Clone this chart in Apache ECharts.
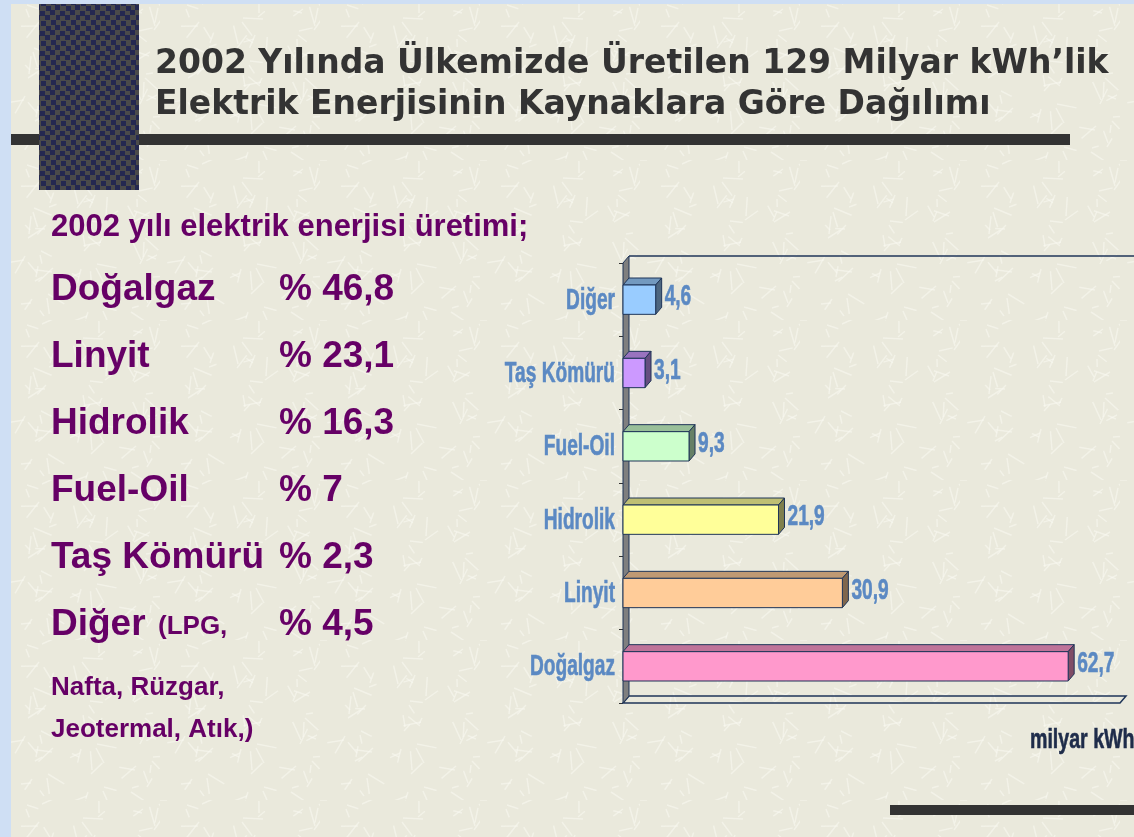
<!DOCTYPE html>
<html>
<head>
    <meta charset="utf-8">
    <title>2002 Elektrik Enerjisi</title>
    <script src="https://cdn.jsdelivr.net/npm/echarts@6/dist/echarts.min.js"></script>
    <style>
        html, body { margin: 0; padding: 0; background: #EAE9DC; }
        #main { width: 1134px; height: 837px; }
    </style>
</head>
<body>
<div id="main"></div>
<script>
    // grafik verileri (milyar kWh)
    var categories = ['Doğalgaz', 'Linyit', 'Hidrolik', 'Fuel-Oil', 'Taş Kömürü', 'Diğer'];
    var production = [62.7, 30.9, 21.9, 9.3, 3.1, 4.6];
    // soldaki yüzde listesi
    var shareNames = ['Doğalgaz', 'Linyit', 'Hidrolik', 'Fuel-Oil', 'Taş Kömürü', 'Diğer'];
    var shareValues = ['46,8', '23,1', '16,3', '7', '2,3', '4,5'];
    var xMax = 70;

    var faceColors = ['#FF99CC', '#FFCC99', '#FFFF99', '#CCFFCC', '#CC99FF', '#99CCFF'];
    var labelBlue = '#5B89C3';
    var purple = '#660066';
    var arial = '"Liberation Sans", Arial, sans-serif';
    var NARROW = 0.66; // grafik yazıları yatayda sıkışık

    var G = { left: 623, top: 263, right: 14, bottom: 134 };
    var DX = 6, DY = 7;

    function shade(hex, k) {
        var n = parseInt(hex.slice(1), 16);
        var r = Math.round(((n >> 16) & 255) * k), g = Math.round(((n >> 8) & 255) * k), b = Math.round((n & 255) * k);
        return 'rgb(' + r + ',' + g + ',' + b + ')';
    }

    // koyu kare desen (sol üstteki blok)
    function makePattern() {
        var c = document.createElement('canvas');
        c.width = 20; c.height = 20;
        var ctx = c.getContext('2d');
        ctx.fillStyle = '#4A4A4A';
        ctx.fillRect(0, 0, 20, 20);
        ctx.fillStyle = '#242850';
        [[1, 1], [11, 0], [6, 6], [15, 5], [0, 11], [10, 10], [5, 15], [16, 15]].forEach(function (p) {
            ctx.fillRect(p[0], p[1], 5, 5);
        });
        return c;
    }

    // zemin dokusu: açık renkli kısa çizgiler
    function makeTexture() {
        var c = document.createElement('canvas');
        c.width = 160; c.height = 160;
        var ctx = c.getContext('2d');
        ctx.fillStyle = '#EAE9DC';
        ctx.fillRect(0, 0, 160, 160);
        ctx.strokeStyle = 'rgba(250,250,242,0.55)';
        ctx.lineWidth = 1.5;
        for (var i = 0; i < 90; i++) {
            var x = (i * 53) % 160, y = (i * 97 + (i % 7) * 11) % 160;
            var a = i * 2.39, len = 7 + (i * 13) % 14;
            ctx.beginPath();
            ctx.moveTo(x, y);
            ctx.lineTo(x + Math.cos(a) * len, y + Math.sin(a) * len);
            ctx.stroke();
        }
        return c;
    }

    var chart = echarts.init(document.getElementById('main'));

    var graphics = [
        { type: 'rect', z: -10, shape: { x: 11, y: 4, width: 1123, height: 833 }, style: { fill: { image: makeTexture(), repeat: 'repeat' } }, silent: true },
        { type: 'rect', shape: { x: 0, y: 0, width: 11, height: 837 }, style: { fill: '#CFDFF4' }, silent: true },
        { type: 'rect', shape: { x: 0, y: 0, width: 1134, height: 4 }, style: { fill: '#CFDFF4' }, silent: true },
        { type: 'rect', shape: { x: 11, y: 134, width: 1059, height: 11 }, style: { fill: '#333333' }, z: 1 },
        { type: 'rect', shape: { x: 39, y: 4, width: 100, height: 186 }, style: { fill: { image: makePattern(), repeat: 'repeat' } }, z: 2 },
        { type: 'rect', shape: { x: 890, y: 805, width: 244, height: 10 }, style: { fill: '#333333' } },
        { type: 'text', x: 155, y: 64, style: { text: '2002 Yılında Ülkemizde Üretilen 129 Milyar kWh\u2019lik', fill: '#333333', font: 'bold 33px "DejaVu Sans", sans-serif', verticalAlign: 'middle' } },
        { type: 'text', x: 155, y: 105, style: { text: 'Elektrik Enerjisinin Kaynaklara Göre Dağılımı', fill: '#333333', font: 'bold 33px "DejaVu Sans", sans-serif', verticalAlign: 'middle' } },
        { type: 'text', x: 51, y: 227, style: { text: '2002 yılı elektrik enerjisi üretimi;', fill: purple, font: 'bold 31px ' + arial, verticalAlign: 'middle' } },
        { type: 'text', x: 158, y: 627, style: { text: '(LPG,', fill: purple, font: 'bold 26px ' + arial, verticalAlign: 'middle' } },
        { type: 'text', x: 51, y: 688, style: { text: 'Nafta, Rüzgar,', fill: purple, font: 'bold 26px ' + arial, verticalAlign: 'middle' } },
        { type: 'text', x: 51, y: 730, style: { text: 'Jeotermal, Atık,)', fill: purple, font: 'bold 26px ' + arial, verticalAlign: 'middle' } },
        { type: 'text', x: 1030, y: 740, scaleX: 0.7, style: { text: 'milyar kWh', fill: '#1E2C4A', stroke: '#1E2C4A', lineWidth: 0.6, font: 'bold 28px ' + arial, verticalAlign: 'middle' } }
    ];
    shareNames.forEach(function (name, i) {
        graphics.push({ type: 'text', x: 51, y: 290 + i * 67, style: { text: name, fill: purple, font: 'bold 37px ' + arial, verticalAlign: 'middle' } });
        graphics.push({ type: 'text', x: 279, y: 290 + i * 67, style: { text: '% ' + shareValues[i], fill: purple, font: 'bold 37px ' + arial, verticalAlign: 'middle' } });
    });

    // 3 boyutlu çubuk + kategori ve değer yazıları
    function renderBar(params, api) {
        var v = api.value(0), idx = api.value(1);
        var p0 = api.coord([0, idx]), p1 = api.coord([v, idx]);
        var h = api.size([0, 1])[1] * 0.4;
        var x0 = p0[0], x1 = p1[0], y = p0[1] - h / 2;
        var face = faceColors[idx];
        var line = { stroke: '#1F3558', lineWidth: 1 };
        var txt = { fill: labelBlue, stroke: labelBlue, lineWidth: 0.6, font: 'bold 29px ' + arial, verticalAlign: 'middle' };
        return {
            type: 'group',
            children: [
                { type: 'polygon', shape: { points: [[x0, y], [x0 + DX, y - DY], [x1 + DX, y - DY], [x1, y]] },
                  style: Object.assign({ fill: shade(face, 0.75) }, line) },
                { type: 'polygon', shape: { points: [[x1, y], [x1 + DX, y - DY], [x1 + DX, y + h - DY], [x1, y + h]] },
                  style: Object.assign({ fill: shade(face, 0.5) }, line) },
                { type: 'rect', shape: { x: x0, y: y, width: x1 - x0, height: h },
                  style: Object.assign({ fill: face }, line) },
                { type: 'text', x: x1 + DX + 3, y: p0[1] - DY / 2 + 1, scaleX: NARROW,
                  style: Object.assign({ text: String(v).replace('.', ','), align: 'left' }, txt) },
                { type: 'text', x: x0 - 8, y: p0[1] + 1, scaleX: NARROW,
                  style: Object.assign({ text: categories[idx], align: 'right' }, txt) }
            ]
        };
    }

    chart.setOption({
        animation: false,
        grid: G,
        xAxis: { type: 'value', min: 0, max: xMax, show: false },
        yAxis: {
            type: 'category',
            data: categories,
            axisLine: { show: false },
            axisTick: { show: true, length: 4, lineStyle: { color: '#333' } },
            axisLabel: { show: false },
            splitLine: { show: false }
        },
        series: [{
            type: 'custom',
            renderItem: renderBar,
            encode: { x: 0, y: 1 },
            data: production.map(function (v, i) { return [v, i]; }),
            clip: false,
            z: 5
        }],
        graphic: graphics
    });

    // duvar ve zemin çerçevesi
    var xL = G.left, yT = G.top, yB = 837 - G.bottom;
    var xR = chart.convertToPixel({ xAxisIndex: 0 }, xMax);
    chart.setOption({
        graphic: graphics.concat([
            { type: 'polygon', z: 1, shape: { points: [[xL, yB], [xL + DX, yB - DY], [xR + DX, yB - DY], [xR, yB]] },
              style: { fill: 'rgba(0,0,0,0)', stroke: '#1F3558', lineWidth: 1.5 } },
            { type: 'polygon', z: 1, shape: { points: [[xL, yT], [xL + DX, yT - DY], [xL + DX, yB - DY], [xL, yB]] },
              style: { fill: '#7F7F7F', stroke: '#1F3558', lineWidth: 1 } },
            { type: 'line', z: 1, shape: { x1: xL + DX, y1: yT - DY, x2: 1134, y2: yT - DY },
              style: { stroke: '#1F3558', lineWidth: 1.5 } }
        ])
    });
</script>
</body>
</html>
